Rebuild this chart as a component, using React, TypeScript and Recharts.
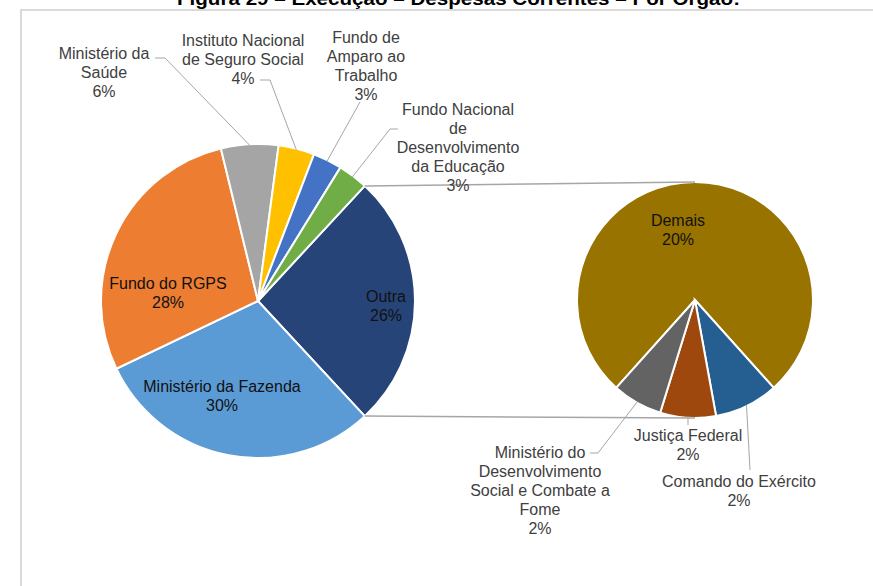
import React from 'react';
import { PieChart, Pie, Cell } from 'recharts';

// ---- Data ----
const mainNames = [
  'Outra',
  'Ministério da Fazenda',
  'Fundo do RGPS',
  'Ministério da Saúde',
  'Instituto Nacional de Seguro Social',
  'Fundo de Amparo ao Trabalho',
  'Fundo Nacional de Desenvolvimento da Educação',
];
const mainValues = [26.2, 29.8, 28.3, 5.9, 3.7, 3.0, 3.1];
const mainColors = ['#264478', '#5B9BD5', '#ED7D31', '#A5A5A5', '#FFC000', '#4472C4', '#70AD47'];

const otherNames = [
  'Demais',
  'Comando do Exército',
  'Justiça Federal',
  'Ministério do Desenvolvimento Social e Combate a Fome',
];
const otherValues = [20.1, 2.3, 2.0, 1.8];
const otherColors = ['#997300', '#255E91', '#9E480E', '#636363'];

const TITLE = 'Figura 29 – Execução – Despesas Correntes – Por Órgão:';

// ---- Layout (not data) ----
const W = 873;
const H = 586;
const MAIN = { cx: 258, cy: 301, r: 157 };
const SEC = { cx: 695, cy: 300, r: 118 };
const FONT = '"Liberation Sans", Arial, sans-serif';
const LINE_H = 19;

type LabelCfg = {
  lines: string[];
  dx: number;
  dy: number;
  inside?: boolean;
  leader?: [number, number][];
};

const LABEL_LAYOUT: Record<string, LabelCfg> = {
  'Outra': { lines: ['Outra'], dx: 128, dy: -5, inside: true },
  'Ministério da Fazenda': { lines: ['Ministério da Fazenda'], dx: -36, dy: 85, inside: true },
  'Fundo do RGPS': { lines: ['Fundo do RGPS'], dx: -90, dy: -18, inside: true },
  'Ministério da Saúde': {
    lines: ['Ministério da', 'Saúde'], dx: -154, dy: -248,
    leader: [[-103, -243], [-93, -243]],
  },
  'Instituto Nacional de Seguro Social': {
    lines: ['Instituto Nacional', 'de Seguro Social'], dx: -15, dy: -261,
    leader: [[2, -221], [12, -221]],
  },
  'Fundo de Amparo ao Trabalho': {
    lines: ['Fundo de', 'Amparo ao', 'Trabalho'], dx: 108, dy: -264,
    leader: [[102, -199]],
  },
  'Fundo Nacional de Desenvolvimento da Educação': {
    lines: ['Fundo Nacional', 'de', 'Desenvolvimento', 'da Educação'], dx: 200, dy: -192,
    leader: [[140, -172], [132, -172]],
  },
  'Demais': { lines: ['Demais'], dx: -17, dy: -80, inside: true },
  'Comando do Exército': {
    lines: ['Comando do Exército'], dx: 44, dy: 181,
    leader: [[55, 170]],
  },
  'Justiça Federal': {
    lines: ['Justiça Federal'], dx: -7, dy: 135,
    leader: [[-7, 125]],
  },
  'Ministério do Desenvolvimento Social e Combate a Fome': {
    lines: ['Ministério do', 'Desenvolvimento', 'Social e Combate a', 'Fome'], dx: -155, dy: 152,
    leader: [[-105, 153], [-97, 153]],
  },
};

const RAD = Math.PI / 180;
const TOTAL = mainValues.reduce((a, b) => a + b, 0);
const OTHER_TOTAL = otherValues.reduce((a, b) => a + b, 0);

const mainData = mainNames.map((name, i) => ({ name, value: mainValues[i] }));
const otherData = otherNames.map((name, i) => ({ name, value: otherValues[i] }));

// Excel "pie of pie": the "Outra" slice centred at 3 o'clock; secondary pie's big slice centred at top.
const mainStart = (mainValues[0] / TOTAL) * 180;
const secStart = 90 + (otherValues[0] / OTHER_TOTAL) * 180;

const polar = (cx: number, cy: number, r: number, deg: number) => ({
  x: cx + r * Math.cos(deg * RAD),
  y: cy - r * Math.sin(deg * RAD),
});

const makeLabel = (center: { cx: number; cy: number; r: number }, isMain: boolean) => (props: any) => {
  const { midAngle, name, value, index } = props;
  const cfg = LABEL_LAYOUT[name];
  if (!cfg) return null;
  const pct = Math.round((value / TOTAL) * 100) + '%';
  const lines = [...cfg.lines, pct];
  const x = center.cx + cfg.dx;
  const y0 = center.cy + cfg.dy;
  const elems: React.ReactNode[] = [];

  if (isMain && index === 0) {
    const half = (value / TOTAL) * 180;
    const top = polar(center.cx, center.cy, center.r, midAngle + half);
    const bot = polar(center.cx, center.cy, center.r, midAngle - half);
    elems.push(
      <line key="c1" x1={top.x} y1={top.y} x2={SEC.cx} y2={SEC.cy - SEC.r} stroke="#a6a6a6" strokeWidth={1.5} />,
      <line key="c2" x1={bot.x} y1={bot.y} x2={SEC.cx} y2={SEC.cy + SEC.r} stroke="#a6a6a6" strokeWidth={1.5} />
    );
  }

  if (cfg.leader) {
    const p = polar(center.cx, center.cy, center.r - 1, midAngle);
    const pts = [...cfg.leader.map(([dx, dy]) => `${center.cx + dx},${center.cy + dy}`), `${p.x},${p.y}`].join(' ');
    elems.push(<polyline key="ld" points={pts} fill="none" stroke="#a6a6a6" strokeWidth={1} />);
  }

  elems.push(
    <text
      key="t"
      x={x}
      y={y0}
      textAnchor="middle"
      fontFamily={FONT}
      fontSize={16}
      fill={cfg.inside ? '#111111' : '#404040'}
    >
      {lines.map((ln, i) => (
        <tspan key={i} x={x} y={y0 + i * LINE_H} dominantBaseline="central">
          {ln}
        </tspan>
      ))}
    </text>
  );
  return <g>{elems}</g>;
};

export default function App() {
  return (
    <div style={{ position: 'absolute', left: 0, top: 0, width: W, height: H, overflow: 'hidden', background: '#ffffff' }}>
      <div
        style={{
          position: 'absolute',
          left: 20,
          top: 9,
          width: 1000,
          height: 1000,
          border: '2px solid #dadada',
          boxSizing: 'border-box',
        }}
      />
      <svg width={W} height={20} style={{ position: 'absolute', left: 0, top: 0 }}>
        <text
          x={177}
          y={5}
          textLength={563}
          lengthAdjust="spacingAndGlyphs"
          fontFamily={FONT}
          fontWeight="bold"
          fontSize={18}
          fill="#000000"
        >
          {TITLE}
        </text>
      </svg>
      <div style={{ position: 'absolute', left: 0, top: 0 }}>
        <PieChart width={W} height={H} margin={{ top: 0, right: 0, bottom: 0, left: 0 }}>
          <Pie
            data={mainData}
            dataKey="value"
            nameKey="name"
            cx={MAIN.cx}
            cy={MAIN.cy}
            outerRadius={MAIN.r}
            startAngle={mainStart}
            endAngle={mainStart - 360}
            stroke="#ffffff"
            strokeWidth={2}
            label={makeLabel(MAIN, true)}
            labelLine={false}
            isAnimationActive={false}
          >
            {mainData.map((d, i) => (
              <Cell key={d.name} fill={mainColors[i]} />
            ))}
          </Pie>
          <Pie
            data={otherData}
            dataKey="value"
            nameKey="name"
            cx={SEC.cx}
            cy={SEC.cy}
            outerRadius={SEC.r}
            startAngle={secStart}
            endAngle={secStart - 360}
            stroke="#ffffff"
            strokeWidth={2}
            label={makeLabel(SEC, false)}
            labelLine={false}
            isAnimationActive={false}
          >
            {otherData.map((d, i) => (
              <Cell key={d.name} fill={otherColors[i]} />
            ))}
          </Pie>
        </PieChart>
      </div>
    </div>
  );
}
